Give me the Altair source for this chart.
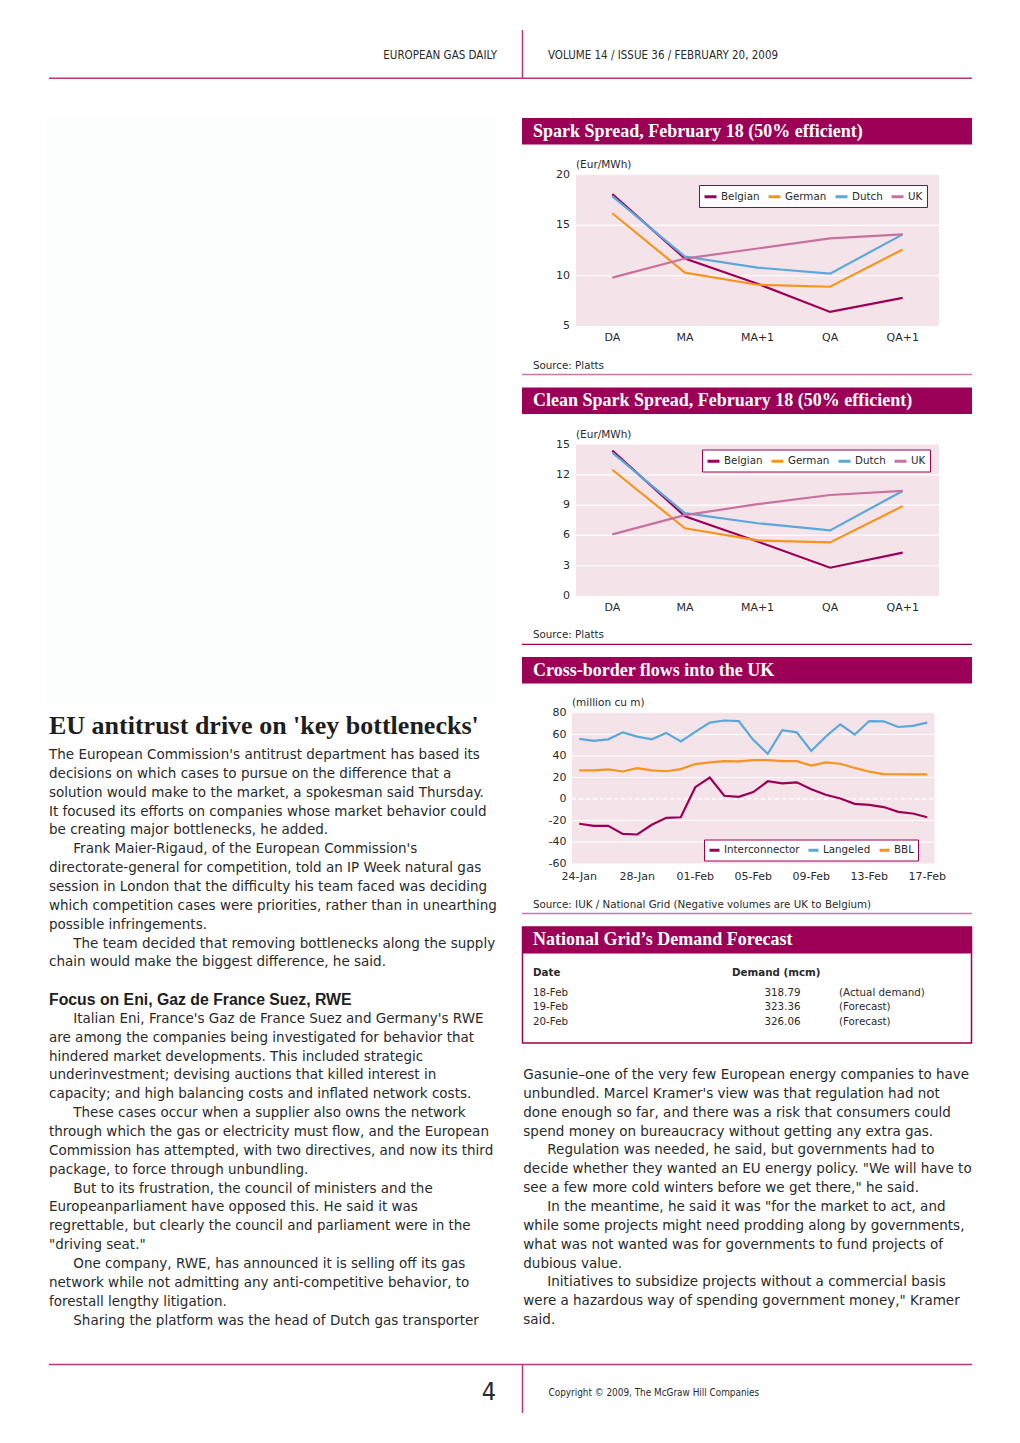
import altair as alt
import pandas as pd

# ---------------- data ----------------
spark_cats = ["DA", "MA", "MA+1", "QA", "QA+1"]
spark_series = ["Belgian", "German", "Dutch", "UK"]
spark_belgian = [18.1, 11.7, 9.2, 6.4, 7.8]
spark_german = [16.2, 10.3, 9.1, 8.9, 12.6]
spark_dutch = [17.9, 11.9, 10.8, 10.2, 14.1]
spark_uk = [9.8, 11.7, 12.7, 13.7, 14.1]
spark_yticks = [5, 10, 15, 20]
spark_ylabels = ["5", "10", "15", "20"]
spark_grid = [10, 15]

clean_belgian = [14.4, 7.9, 5.4, 2.8, 4.3]
clean_german = [12.5, 6.7, 5.5, 5.3, 8.9]
clean_dutch = [14.2, 8.2, 7.2, 6.5, 10.4]
clean_uk = [6.1, 8.0, 9.1, 10.0, 10.4]
clean_yticks = [0, 3, 6, 9, 12, 15]
clean_ylabels = ["0", "3", "6", "9", "12", "15"]
clean_grid = [3, 6, 9, 12]

flow_dates = ["24-Jan", "25-Jan", "26-Jan", "27-Jan", "28-Jan", "29-Jan", "30-Jan",
              "31-Jan", "01-Feb", "02-Feb", "03-Feb", "04-Feb", "05-Feb", "06-Feb",
              "07-Feb", "08-Feb", "09-Feb", "10-Feb", "11-Feb", "12-Feb", "13-Feb",
              "14-Feb", "15-Feb", "16-Feb", "17-Feb"]
flow_tick_dates = ["24-Jan", "28-Jan", "01-Feb", "05-Feb", "09-Feb", "13-Feb", "17-Feb"]
flow_series = ["Interconnector", "Langeled", "BBL"]
flow_interconnector = [-23, -25, -25, -32.5, -33, -24, -17.5, -17, 11, 20, 3, 2, 6.5,
                       16.5, 14.5, 15.5, 9, 4, 0.5, -4.5, -5.5, -7.5, -12, -13.5, -17]
flow_langeled = [56, 54, 55.5, 62, 58, 55.5, 61.5, 53.5, 62.5, 71, 73, 72.5, 55, 42,
                 64, 62, 44.7, 58, 69.5, 60, 72.5, 72.3, 67, 68, 71]
flow_bbl = [26.6, 26.7, 27.5, 25.6, 28.7, 26.6, 25.8, 27.8, 32.5, 34, 35.3, 35, 36.2,
            36.1, 35.2, 35.2, 31, 34, 32.8, 28.9, 25.4, 23.2, 23, 23, 23]
flow_yticks = [-60, -40, -20, 0, 20, 40, 60, 80]
flow_ylabels = ["-60", "-40", "-20", "0", "20", "40", "60", "80"]
flow_grid = [-40, -20, 20, 40, 60]

table_dates = ["18-Feb", "19-Feb", "20-Feb"]
table_demand = [318.79, 323.36, 326.06]
table_notes = ["(Actual demand)", "(Forecast)", "(Forecast)"]

header_left = "EUROPEAN GAS DAILY"
header_right = "VOLUME 14 / ISSUE 36 / FEBRUARY 20, 2009"
footer_page = "4"
footer_copy = "Copyright \u00a9 2009, The McGraw Hill Companies"
article_title = "EU antitrust drive on 'key bottlenecks'"

left_text = [
    "The European Commission's antitrust department has based its",
    "decisions on which cases to pursue on the difference that a",
    "solution would make to the market, a spokesman said Thursday.",
    "It focused its efforts on companies whose market behavior could",
    "be creating major bottlenecks, he added.",
    "Frank Maier-Rigaud, of the European Commission's",
    "directorate-general for competition, told an IP Week natural gas",
    "session in London that the difficulty his team faced was deciding",
    "which competition cases were priorities, rather than in unearthing",
    "possible infringements.",
    "The team decided that removing bottlenecks along the supply",
    "chain would make the biggest difference, he said.",
    "",
    "Focus on Eni, Gaz de France Suez, RWE",
    "Italian Eni, France's Gaz de France Suez and Germany's RWE",
    "are among the companies being investigated for behavior that",
    "hindered market developments. This included strategic",
    "underinvestment; devising auctions that killed interest in",
    "capacity; and high balancing costs and inflated network costs.",
    "These cases occur when a supplier also owns the network",
    "through which the gas or electricity must flow, and the European",
    "Commission has attempted, with two directives, and now its third",
    "package, to force through unbundling.",
    "But to its frustration, the council of ministers and the",
    "Europeanparliament have opposed this. He said it was",
    "regrettable, but clearly the council and parliament were in the",
    "\"driving seat.\"",
    "One company, RWE, has announced it is selling off its gas",
    "network while not admitting any anti-competitive behavior, to",
    "forestall lengthy litigation.",
    "Sharing the platform was the head of Dutch gas transporter",
]
left_indent = [0, 0, 0, 0, 0, 1, 0, 0, 0, 0, 1, 0, 0, 0, 1, 0, 0, 0, 0, 1, 0, 0, 0,
               1, 0, 0, 0, 1, 0, 0, 1]
left_bold = [0] * 13 + [1] + [0] * 17

right_text = [
    "Gasunie\u2013one of the very few European energy companies to have",
    "unbundled. Marcel Kramer's view was that regulation had not",
    "done enough so far, and there was a risk that consumers could",
    "spend money on bureaucracy without getting any extra gas.",
    "Regulation was needed, he said, but governments had to",
    "decide whether they wanted an EU energy policy. \"We will have to",
    "see a few more cold winters before we get there,\" he said.",
    "In the meantime, he said it was \"for the market to act, and",
    "while some projects might need prodding along by governments,",
    "what was not wanted was for governments to fund projects of",
    "dubious value.",
    "Initiatives to subsidize projects without a commercial basis",
    "were a hazardous way of spending government money,\" Kramer",
    "said.",
]
right_indent = [0, 0, 0, 0, 1, 0, 0, 1, 0, 0, 0, 1, 0, 0]

# ---------------- styles ----------------
OFF = 8
def P(v):
    return v - OFF

FONT = "DejaVu Sans"
SERIF = "Liberation Serif"
NARROW = "Liberation Sans Narrow, DejaVu Sans Condensed, sans-serif"
TXT = "#2a2a2a"
MAG = "#9b0056"
RULE = "#b8357a"
PINKLINE = "#c97aa5"
PLOTBG = "#f4e4ea"
C_BEL = "#9b0056"
C_GER = "#f7941d"
C_DUT = "#5aa8d9"
C_UK = "#c8709e"
BODY = 13.5

L = []

def one():
    return pd.DataFrame({"k": [0]})

def rect(x1, x2, y1, y2, fill):
    return alt.Chart(one()).mark_rect(color=fill).encode(
        x=alt.value(P(x1)), x2=alt.value(P(x2)), y=alt.value(P(y1)), y2=alt.value(P(y2)))

def box(x1, x2, y1, y2, stroke, sw):
    return alt.Chart(one()).mark_rect(fillOpacity=0, stroke=stroke, strokeWidth=sw).encode(
        x=alt.value(P(x1)), x2=alt.value(P(x2)), y=alt.value(P(y1)), y2=alt.value(P(y2)))

def hline(x1, x2, y, color, sw):
    return alt.Chart(one()).mark_rule(color=color, strokeWidth=sw).encode(
        x=alt.value(P(x1)), x2=alt.value(P(x2)), y=alt.value(P(y)))

def vline(x, y1, y2, color, sw):
    return alt.Chart(one()).mark_rule(color=color, strokeWidth=sw).encode(
        x=alt.value(P(x)), y=alt.value(P(y1)), y2=alt.value(P(y2)))

def label(text, x, y, size, font=FONT, align="left", weight="normal", color=TXT):
    return alt.Chart(pd.DataFrame({"t": [text]})).mark_text(
        align=align, baseline="middle", font=font, fontSize=size, fontWeight=weight,
        color=color).encode(x=alt.value(P(x)), y=alt.value(P(y)), text="t:N")


def panel(cats, series, values, colors, area, ydom, yticks, ylabels, grid, units, leg_xy,
          xticks, ylab_x, xlab_y, units_xy, zero_dash=False, sym=12):
    left, right, top, bottom = area
    xs = alt.Scale(type="point", domain=cats, range=[P(left), P(right)], padding=0.5)
    ys = alt.Scale(type="linear", domain=ydom, range=[P(bottom), P(top)], nice=False, zero=False)
    out = [rect(left, right, top, bottom, PLOTBG)]
    out.append(alt.Chart(pd.DataFrame({"v": grid})).mark_rule(color="white", strokeWidth=1.2).encode(
        y=alt.Y("v:Q", scale=ys, axis=None), x=alt.value(P(left)), x2=alt.value(P(right))))
    if zero_dash:
        out.append(alt.Chart(pd.DataFrame({"v": [0]})).mark_rule(
            color="white", strokeWidth=1.4, strokeDash=[4, 3]).encode(
            y=alt.Y("v:Q", scale=ys, axis=None), x=alt.value(P(left)), x2=alt.value(P(right))))
    rows = []
    for s, vals in zip(series, values):
        for i, (c, v) in enumerate(zip(cats, vals)):
            rows.append({"cat": c, "series": s, "value": v, "i": i})
    df = pd.DataFrame(rows)
    leg = alt.Legend(orient="none", legendX=P(leg_xy[0]), legendY=P(leg_xy[1]),
                     direction="horizontal", columns=len(series), title=None,
                     symbolType="stroke", symbolSize=sym * sym, symbolStrokeWidth=3,
                     labelFont=FONT, labelFontSize=10.3, labelColor=TXT, labelOffset=3,
                     columnPadding=2, padding=4, fillColor="white", strokeColor=MAG)
    out.append(alt.Chart(df).mark_line(strokeWidth=2.2).encode(
        x=alt.X("cat:N", scale=xs, axis=None),
        y=alt.Y("value:Q", scale=ys, axis=None),
        color=alt.Color("series:N", scale=alt.Scale(domain=series, range=colors), legend=leg),
        order=alt.Order("i:Q")))
    out.append(alt.Chart(pd.DataFrame({"v": yticks, "s": ylabels})).mark_text(
        align="right", baseline="middle", font=FONT, fontSize=11, color=TXT).encode(
        y=alt.Y("v:Q", scale=ys, axis=None), x=alt.value(P(ylab_x)), text="s:N"))
    out.append(alt.Chart(pd.DataFrame({"c": xticks})).mark_text(
        align="center", baseline="middle", font=FONT, fontSize=11, color=TXT).encode(
        x=alt.X("c:N", scale=xs, axis=None), y=alt.value(P(xlab_y)), text="c:N"))
    out.append(label(units, units_xy[0], units_xy[1], 10.5))
    return out


# ---------------- header / footer ----------------
L.append(rect(45, 500, 118, 705, "#fcfdfd"))
L.append(label(header_left, 497, 56, 11.5, font=NARROW, align="right"))
L.append(label(header_right, 548, 56, 11.5, font=NARROW))
L.append(vline(522.5, 30, 78, RULE, 1.5))
L.append(hline(49, 972, 78.3, RULE, 1.5))
L.append(hline(49, 972, 1364.5, RULE, 1.5))
L.append(vline(522.5, 1364.5, 1413, RULE, 1.5))
L.append(label(footer_page, 489, 1392, 25, font=NARROW, align="center"))
L.append(label(footer_copy, 548.5, 1393, 9.9, font=NARROW))

# ---------------- chart 1 ----------------
L.append(rect(522, 972, 118, 144.5, MAG))
L.append(label("Spark Spread, February 18 (50% efficient)", 533, 131.5, 18, font=SERIF,
               weight="bold", color="white"))
L += panel(spark_cats, spark_series, [spark_belgian, spark_german, spark_dutch, spark_uk],
           [C_BEL, C_GER, C_DUT, C_UK], (576, 939, 175, 326), [5, 20], spark_yticks,
           spark_ylabels, spark_grid, "(Eur/MWh)", (699, 185), spark_cats, 570, 337.5,
           (576, 164.5))
L.append(label("Source: Platts", 533, 365.5, 10.3))
L.append(hline(522, 972, 374.5, PINKLINE, 1.5))

# ---------------- chart 2 ----------------
L.append(rect(522, 972, 387.5, 414, MAG))
L.append(label("Clean Spark Spread, February 18 (50% efficient)", 533, 401, 18, font=SERIF,
               weight="bold", color="white"))
L += panel(spark_cats, spark_series, [clean_belgian, clean_german, clean_dutch, clean_uk],
           [C_BEL, C_GER, C_DUT, C_UK], (576, 939, 444.5, 596), [0, 15], clean_yticks,
           clean_ylabels, clean_grid, "(Eur/MWh)", (702, 449.5), spark_cats, 570, 607.5,
           (576, 434.5))
L.append(label("Source: Platts", 533, 635, 10.3))
L.append(hline(522, 972, 644.3, MAG, 1.3))

# ---------------- chart 3 ----------------
L.append(rect(522, 972, 657, 683.5, MAG))
L.append(label("Cross-border flows into the UK", 533, 671, 18, font=SERIF,
               weight="bold", color="white"))
L += panel(flow_dates, flow_series, [flow_interconnector, flow_langeled, flow_bbl],
           [C_BEL, C_DUT, C_GER], (572, 934.5, 713, 863.5), [-60, 80], flow_yticks,
           flow_ylabels, flow_grid, "(million cu m)", (704, 839.5), flow_tick_dates, 566.5,
           876.5, (572, 702.5), zero_dash=True, sym=10)
L.append(label("Source: IUK / National Grid (Negative volumes are UK to Belgium)", 533, 905, 10.3))
L.append(hline(522, 972, 913.5, PINKLINE, 1.5))

# ---------------- table ----------------
L.append(rect(522, 972, 927, 953.5, MAG))
L.append(box(522.5, 971.5, 927, 1043, MAG, 1.5))
L.append(label("National Grid\u2019s Demand Forecast", 533, 940, 18, font=SERIF,
               weight="bold", color="white"))
L.append(label("Date", 533, 973, 10.3, weight="bold"))
L.append(label("Demand (mcm)", 732, 973, 10.3, weight="bold"))
trow = alt.Scale(domain=[0, 2], range=[P(992.5), P(1021.5)], nice=False, zero=False)
tdf = pd.DataFrame({"r": [0, 1, 2], "d": table_dates, "v": table_demand, "n": table_notes})
L.append(alt.Chart(tdf).mark_text(align="left", baseline="middle", font=FONT, fontSize=10.3,
                                  color=TXT).encode(
    y=alt.Y("r:Q", scale=trow, axis=None), x=alt.value(P(533)), text="d:N"))
L.append(alt.Chart(tdf).mark_text(align="right", baseline="middle", font=FONT, fontSize=10.3,
                                  color=TXT).encode(
    y=alt.Y("r:Q", scale=trow, axis=None), x=alt.value(P(800.5)),
    text=alt.Text("v:Q", format=".2f")))
L.append(alt.Chart(tdf).mark_text(align="left", baseline="middle", font=FONT, fontSize=10.3,
                                  color=TXT).encode(
    y=alt.Y("r:Q", scale=trow, axis=None), x=alt.value(P(839)), text="n:N"))

# ---------------- article text ----------------
LH = 18.85
L.append(label(article_title, 49, 726, 26, font=SERIF, weight="bold", color="#1e1e1e"))

ldf = pd.DataFrame({"row": list(range(len(left_text))), "ind": left_indent,
                    "b": left_bold, "t": left_text})
n_l = len(left_text) - 1
lys = alt.Scale(domain=[0, n_l], range=[P(755), P(755 + n_l * LH)], nice=False, zero=False)
lxs = alt.Scale(domain=[0, 1], range=[P(49), P(73.3)], nice=False, zero=False)
L.append(alt.Chart(ldf).transform_filter("datum.b == 0").mark_text(
    align="left", baseline="middle", font=FONT, fontSize=BODY, color=TXT).encode(
    x=alt.X("ind:Q", scale=lxs, axis=None), y=alt.Y("row:Q", scale=lys, axis=None), text="t:N"))
L.append(alt.Chart(ldf).transform_filter("datum.b == 1").mark_text(
    align="left", baseline="middle", font="Liberation Sans", fontSize=15.8, fontWeight="bold",
    color="#1e1e1e").encode(
    x=alt.X("ind:Q", scale=lxs, axis=None), y=alt.Y("row:Q", scale=lys, axis=None), text="t:N"))

rdf = pd.DataFrame({"row": list(range(len(right_text))), "ind": right_indent, "t": right_text})
n_r = len(right_text) - 1
rys = alt.Scale(domain=[0, n_r], range=[P(1075), P(1075 + n_r * LH)], nice=False, zero=False)
rxs = alt.Scale(domain=[0, 1], range=[P(523.3), P(547.3)], nice=False, zero=False)
L.append(alt.Chart(rdf).mark_text(
    align="left", baseline="middle", font=FONT, fontSize=BODY, color=TXT).encode(
    x=alt.X("ind:Q", scale=rxs, axis=None), y=alt.Y("row:Q", scale=rys, axis=None), text="t:N"))

chart = alt.layer(*L).resolve_scale(
    x="independent", y="independent", color="independent"
).properties(
    width=1004, height=1427, autosize=alt.AutoSizeParams(type="none"), padding=0,
    background="white"
).configure_view(strokeWidth=0)

chart.save("out.html", embed_options={"renderer": "svg", "actions": False})
